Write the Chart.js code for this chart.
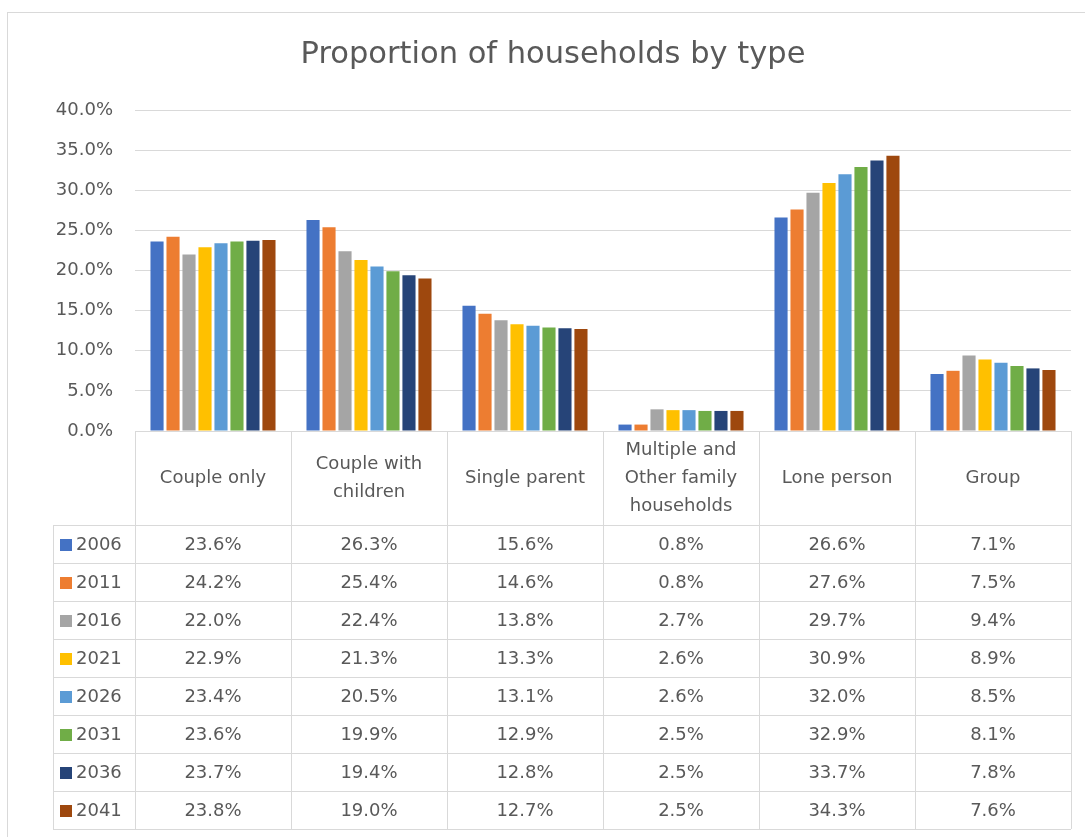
<!DOCTYPE html>
<html>
<head>
<meta charset="utf-8">
<script src="https://cdn.jsdelivr.net/npm/chart.js@4"></script>
<style>
  html, body { margin: 0; padding: 0; background: #ffffff; }
  #c { display: block; }
</style>
</head>
<body>
<canvas id="c" width="1085" height="837"></canvas>
<script>
const chartTitle = 'Proportion of households by type';
const categories = ['Couple only', 'Couple with children', 'Single parent', 'Multiple and Other family households', 'Lone person', 'Group'];
const categoryLines = [['Couple only'], ['Couple with', 'children'], ['Single parent'], ['Multiple and', 'Other family', 'households'], ['Lone person'], ['Group']];
const years = ['2006', '2011', '2016', '2021', '2026', '2031', '2036', '2041'];
const v2006 = [23.6, 26.3, 15.6, 0.8, 26.6, 7.1];
const v2011 = [24.2, 25.4, 14.6, 0.8, 27.6, 7.5];
const v2016 = [22.0, 22.4, 13.8, 2.7, 29.7, 9.4];
const v2021 = [22.9, 21.3, 13.3, 2.6, 30.9, 8.9];
const v2026 = [23.4, 20.5, 13.1, 2.6, 32.0, 8.5];
const v2031 = [23.6, 19.9, 12.9, 2.5, 32.9, 8.1];
const v2036 = [23.7, 19.4, 12.8, 2.5, 33.7, 7.8];
const v2041 = [23.8, 19.0, 12.7, 2.5, 34.3, 7.6];
const yTicks = [0, 5, 10, 15, 20, 25, 30, 35, 40];

const seriesValues = [v2006, v2011, v2016, v2021, v2026, v2031, v2036, v2041];
const colors = ['#4472C4', '#ED7D31', '#A5A5A5', '#FFC000', '#5B9BD5', '#70AD47', '#264478', '#9E480E'];
const FONT = "'DejaVu Sans', sans-serif";
const TEXT = '#595959';
const LINE = '#d9d9d9';

const tablePlugin = {
  id: 'dataTable',
  beforeDraw(chart) {
    const ctx = chart.ctx;
    ctx.save();
    ctx.strokeStyle = LINE;
    ctx.lineWidth = 1;
    ctx.strokeRect(7.5, 12.5, 1100, 900);
    ctx.restore();
  },
  afterDraw(chart) {
    const ctx = chart.ctx;
    const xs = chart.scales.x;
    const ca = chart.chartArea;
    const n = categories.length;
    const w = xs.getPixelForValue(1) - xs.getPixelForValue(0);
    const left = xs.getPixelForValue(0) - w / 2;
    const right = xs.getPixelForValue(n - 1) + w / 2;
    const top = ca.bottom;
    const headerH = 94;
    const rowH = 38;
    const legendLeft = 53;
    const headerBottom = top + headerH;
    const bottom = headerBottom + rowH * years.length;
    const r = v => Math.round(v) + 0.5;

    ctx.save();
    ctx.strokeStyle = LINE;
    ctx.lineWidth = 1;
    ctx.beginPath();
    ctx.moveTo(left, r(top)); ctx.lineTo(right, r(top));
    for (let k = 0; k <= years.length; k++) {
      const y = r(headerBottom + k * rowH);
      ctx.moveTo(legendLeft, y); ctx.lineTo(right, y);
    }
    for (let i = 0; i <= n; i++) {
      const x = r(left + i * w);
      ctx.moveTo(x, top); ctx.lineTo(x, bottom);
    }
    ctx.moveTo(r(legendLeft), headerBottom); ctx.lineTo(r(legendLeft), bottom);
    ctx.stroke();

    ctx.fillStyle = TEXT;
    ctx.font = '18px ' + FONT;
    ctx.textAlign = 'center';
    ctx.textBaseline = 'middle';
    const lh = 28;
    categoryLines.forEach((lines, i) => {
      const cx = xs.getPixelForValue(i);
      const cy = top + headerH / 2;
      lines.forEach((t, j) => {
        ctx.fillText(t, cx, cy + (j - (lines.length - 1) / 2) * lh);
      });
    });
    years.forEach((yr, k) => {
      const cy = headerBottom + k * rowH + rowH / 2 + 1;
      ctx.fillStyle = colors[k];
      ctx.fillRect(60, Math.round(cy - 6), 12, 12);
      ctx.fillStyle = TEXT;
      ctx.textAlign = 'left';
      ctx.fillText(yr, 76, cy);
      ctx.textAlign = 'center';
      seriesValues[k].forEach((v, i) => {
        ctx.fillText(v.toFixed(1) + '%', xs.getPixelForValue(i), cy);
      });
    });
    ctx.restore();
  }
};

new Chart(document.getElementById('c'), {
  type: 'bar',
  data: {
    labels: categories,
    datasets: years.map((yr, k) => ({
      label: yr,
      data: seriesValues[k],
      backgroundColor: colors[k],
      borderWidth: 0,
      barPercentage: 0.82,
      categoryPercentage: 0.82
    }))
  },
  options: {
    responsive: false,
    animation: false,
    layout: { padding: { left: 35, right: 14, top: 0, bottom: 406 } },
    plugins: {
      legend: { display: false },
      tooltip: { enabled: false },
      title: {
        display: true,
        text: chartTitle,
        color: TEXT,
        font: { family: FONT, size: 30.5, weight: 'normal' },
        padding: { top: 37, bottom: 36.4 }
      }
    },
    scales: {
      x: { display: false },
      y: {
        min: 0,
        max: 40,
        afterBuildTicks: s => { s.ticks = yTicks.map(v => ({ value: v })); },
        afterFit: s => { s.width = 100; },
        ticks: {
          color: TEXT,
          font: { family: FONT, size: 18 },
          padding: 22,
          callback: v => v.toFixed(1) + '%'
        },
        grid: { color: LINE, drawTicks: false },
        border: { display: false }
      }
    }
  },
  plugins: [tablePlugin]
});
</script>
</body>
</html>
